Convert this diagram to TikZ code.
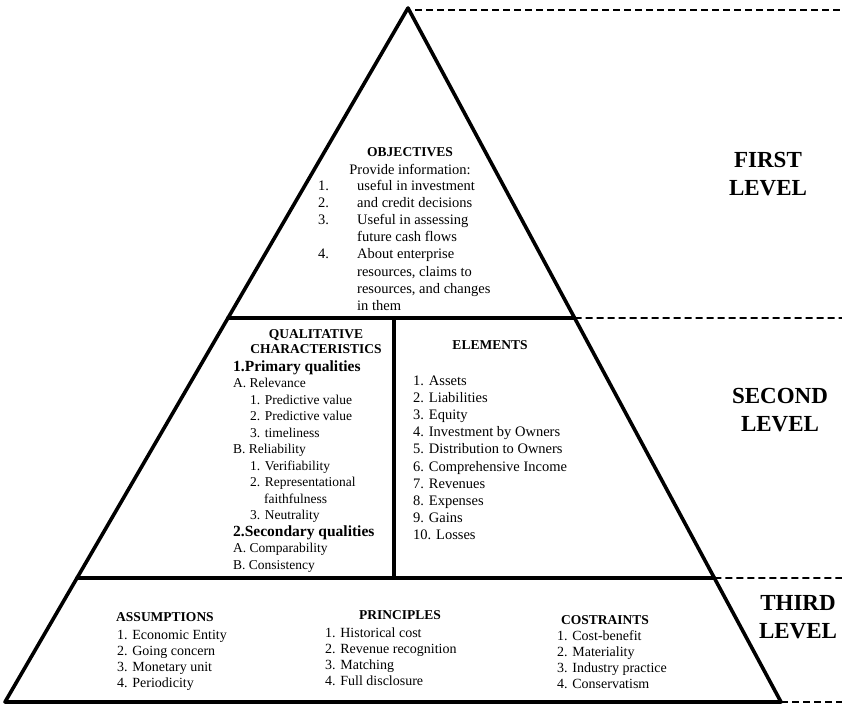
\documentclass[tikz,border=0pt]{standalone}
\usepackage{fontspec}
\setmainfont{Liberation Serif}
\usetikzlibrary{calc}

\begin{document}
\begin{tikzpicture}[
    x=1pt, y=-1pt,
    tri/.style={line width=3.6pt, line join=round, line cap=round},
    guide/.style={line width=1.6pt, dash pattern=on 7pt off 4pt},
    head/.style={font=\fontsize{13.5}{15}\selectfont\bfseries, align=center, inner sep=0pt},
    item/.style={font=\fontsize{14.5}{17.2}\selectfont, anchor=base west, inner sep=0pt},
    level/.style={font=\fontsize{23}{28}\selectfont\bfseries, align=center, inner sep=0pt}
]
\useasboundingbox (0,0) rectangle (842,707);

% Pyramid outline
\coordinate (apex) at (408,8);
\coordinate (botL) at (5,702);
\coordinate (botR) at (781,702);
\coordinate (oneL) at ($(apex)!0.4467!(botL)$);
\coordinate (oneR) at ($(apex)!0.4467!(botR)$);
\coordinate (twoL) at ($(apex)!0.8213!(botL)$);
\coordinate (twoR) at ($(apex)!0.8213!(botR)$);
\draw[tri] (apex) -- (botL) -- (botR) -- cycle;
\draw[tri] (oneL) -- (oneR);
\draw[tri] (twoL) -- (twoR);
\draw[tri] (394,318) -- (394,578);

% Level guides
\draw[guide] ($(apex)+(7,2)$) -- (842,10);
\draw[guide] (oneR) -- (842,318);
\draw[guide] (twoR) -- (842,578);
\draw[guide] (botR) -- (842,702);

\node[level] (first) at (768,174) {FIRST\\LEVEL};
\node[level] (second) at (780,410) {SECOND\\LEVEL};
\node[level] (third) at (798,617) {THIRD\\LEVEL};

% First level
\node[head] (objectives) at (410,152) {OBJECTIVES};
\node[font=\fontsize{14.5}{17.2}\selectfont, inner sep=0pt] (provide) at (410,169) {Provide information:};
\node[item] (objlist) at (318,190) {\begin{tabular}[t]{@{}p{39pt}@{}l@{}}
1. & useful in investment\\
2. & and credit decisions\\
3. & Useful in assessing\\
   & future cash flows\\
4. & About enterprise\\
   & resources, claims to\\
   & resources, and changes\\
   & in them
\end{tabular}};

% Second level
\node[head] (qualitative) at (316,342) {QUALITATIVE\\CHARACTERISTICS};
\node[item, font=\fontsize{13.5}{16.5}\selectfont] (quallist) at (233,371) {\begin{tabular}[t]{@{}l@{}}
{\fontsize{15.5}{16.5}\selectfont\bfseries 1.Primary qualities}\\
A. Relevance\\
\hspace*{17pt}1. Predictive value\\
\hspace*{17pt}2. Predictive value\\
\hspace*{17pt}3. timeliness\\
B. Reliability\\
\hspace*{17pt}1. Verifiability\\
\hspace*{17pt}2. Representational\\
\hspace*{31pt}faithfulness\\
\hspace*{17pt}3. Neutrality\\
{\fontsize{15.5}{16.5}\selectfont\bfseries 2.Secondary qualities}\\
A. Comparability\\
B. Consistency
\end{tabular}};

\node[head] (elements) at (490,345) {ELEMENTS};
\node[item] (elemlist) at (413,385) {\begin{tabular}[t]{@{}l@{}}
1. Assets\\ 2. Liabilities\\ 3. Equity\\ 4. Investment by Owners\\
5. Distribution to Owners\\ 6. Comprehensive Income\\ 7. Revenues\\
8. Expenses\\ 9. Gains\\ 10. Losses
\end{tabular}};

% Third level
\node[head] (assumptions) at (165,617) {ASSUMPTIONS};
\node[item, font=\fontsize{14}{16}\selectfont] (assumlist) at (117,639) {\begin{tabular}[t]{@{}l@{}}
1. Economic Entity\\ 2. Going concern\\ 3. Monetary unit\\ 4. Periodicity
\end{tabular}};
\node[head] (principles) at (400,615) {PRINCIPLES};
\node[item, font=\fontsize{14}{16}\selectfont] (princlist) at (325,637) {\begin{tabular}[t]{@{}l@{}}
1. Historical cost\\ 2. Revenue recognition\\ 3. Matching\\ 4. Full disclosure
\end{tabular}};
\node[head] (constraints) at (605,620) {COSTRAINTS};
\node[item, font=\fontsize{14}{16}\selectfont] (conslist) at (557,640) {\begin{tabular}[t]{@{}l@{}}
1. Cost-benefit\\ 2. Materiality\\ 3. Industry practice\\ 4. Conservatism
\end{tabular}};

\end{tikzpicture}
\end{document}
